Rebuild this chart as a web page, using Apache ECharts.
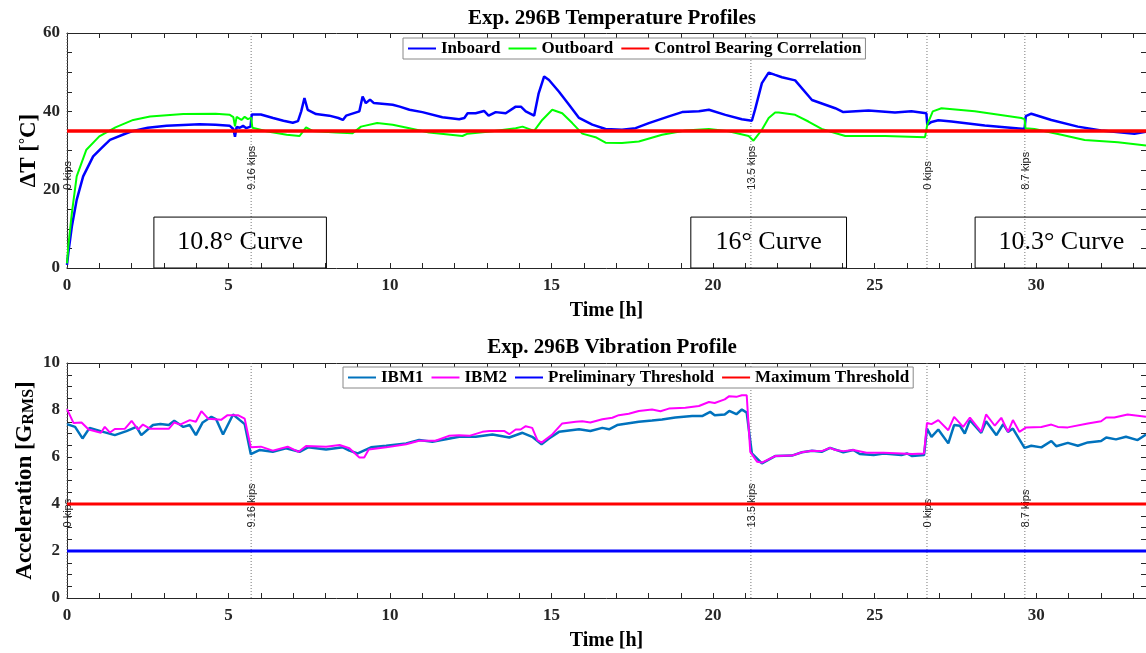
<!DOCTYPE html>
<html>
<head>
<meta charset="utf-8">
<title>Exp. 296B</title>
<script src="https://cdn.jsdelivr.net/npm/echarts@6/dist/echarts.min.js"></script>
<style>
  html, body { margin: 0; padding: 0; background: #fff; }
  #main { width: 1146px; height: 653px; }
</style>
</head>
<body>
<div id="main"></div>
<script>
// 温度曲线 [时间 h, ΔT °C]
var inboard = [[0,0.8],[0.04,3.8],[0.15,10.6],[0.3,17.4],[0.5,23.4],[0.81,28.5],[1.05,30.5],[1.33,32.7],[1.84,34.4],[2.05,35],[2.5,35.8],[3.08,36.3],[3.6,36.5],[4.1,36.7],[4.6,36.6],[5.04,36.3],[5.15,35.5],[5.2,33.5],[5.25,36],[5.35,35.8],[5.45,36.3],[5.55,35.7],[5.68,36.1],[5.72,39.2],[5.76,39.5],[6.0,39.2],[6.38,38.3],[6.7,37.6],[6.99,37.1],[7.15,37.5],[7.25,40],[7.35,43.4],[7.45,40.4],[7.71,39.3],[8.12,38.9],[8.4,38.3],[8.54,37.8],[8.64,38.9],[9.05,40],[9.15,43.8],[9.25,42.1],[9.38,43],[9.5,42.1],[10.08,41.7],[10.3,41.2],[10.6,40.4],[11.0,39.8],[11.62,38.5],[12.14,38.0],[12.3,38.3],[12.4,39.5],[12.65,39.5],[12.91,40.1],[13.05,38.9],[13.27,39.8],[13.58,39.5],[13.89,41.2],[14.05,41.2],[14.2,40],[14.46,38.9],[14.6,44.6],[14.77,48.9],[14.92,48],[15.23,45],[15.54,41.7],[15.85,38.3],[16.26,36.6],[16.67,35.5],[17.18,35.3],[17.6,35.7],[18.01,37],[18.63,38.7],[19.04,39.8],[19.56,40],[19.87,40.4],[20.38,39.1],[20.89,38],[21.2,37.6],[21.3,40.5],[21.51,47.2],[21.72,49.9],[21.92,49.3],[22.13,48.7],[22.54,47.9],[23.06,42.9],[23.78,40.8],[24.03,39.8],[24.81,40.2],[25.63,39.7],[26.14,40],[26.6,39.5],[26.63,36.6],[26.76,37.3],[26.97,37.7],[27.38,37.4],[28.41,36.4],[29.64,35.5],[29.68,38.8],[29.85,39.4],[30.47,37.8],[31.29,36.1],[32.01,35.1],[33.04,34.3],[33.4,34.8]];
var outboard = [[0,1.2],[0.04,5.5],[0.15,14],[0.3,23.4],[0.6,30.2],[1.0,33.6],[1.5,35.9],[2.05,37.8],[2.57,38.7],[3.6,39.3],[4.6,39.4],[5.04,39.1],[5.15,38.5],[5.2,36.2],[5.25,38.6],[5.4,37.8],[5.5,38.6],[5.6,38],[5.7,38.4],[5.74,35.8],[5.9,35.5],[6.17,34.9],[6.8,34],[7.2,33.7],[7.4,35.9],[7.6,35],[8.33,34.6],[8.84,34.4],[9.1,36.1],[9.6,37],[10.08,36.6],[10.6,35.7],[11.21,34.6],[12.24,33.7],[12.4,34.3],[13.17,34.9],[13.89,35.7],[14.1,36.1],[14.46,35],[14.71,37.8],[15.02,40.4],[15.33,39.5],[15.64,37],[15.95,34.3],[16.36,33.4],[16.67,32],[17.18,31.9],[17.7,32.3],[18.42,34],[19.14,35.1],[19.87,35.5],[20.48,34.9],[21.1,33.7],[21.25,32.5],[21.51,35.3],[21.72,38.3],[21.92,39.7],[22.03,39.7],[22.54,39.1],[22.95,37.4],[23.36,35.5],[24.09,33.7],[25.33,33.7],[26.56,33.4],[26.63,36.6],[26.8,40],[27.07,40.8],[28.1,40],[29.54,38.3],[29.64,38],[29.67,35.7],[29.95,35.5],[30.78,34],[31.5,32.7],[32.53,32.1],[33.4,31.3]];
var controlLevel = 35;

// 振动曲线 [时间 h, G_RMS]
var ibm1 = [[0,7.4],[0.25,7.28],[0.48,6.79],[0.7,7.24],[1.12,7.07],[1.48,6.93],[1.84,7.1],[2.15,7.28],[2.3,6.93],[2.66,7.36],[2.89,7.4],[3.15,7.36],[3.32,7.54],[3.6,7.28],[3.8,7.36],[3.99,6.93],[4.2,7.47],[4.47,7.71],[4.62,7.6],[4.83,6.96],[5.14,7.81],[5.35,7.57],[5.5,7.4],[5.69,6.12],[5.97,6.3],[6.37,6.22],[6.78,6.37],[7.2,6.22],[7.46,6.41],[8.02,6.32],[8.54,6.41],[8.74,6.27],[9.0,6.15],[9.41,6.41],[9.88,6.48],[10.5,6.58],[10.9,6.72],[11.31,6.65],[12.14,6.86],[12.65,6.86],[13.17,6.96],[13.69,6.83],[14.1,7.03],[14.4,6.86],[14.69,6.54],[14.92,6.79],[15.23,7.07],[15.85,7.18],[16.2,7.11],[16.57,7.24],[16.78,7.18],[17.03,7.36],[17.7,7.5],[18.11,7.55],[18.42,7.6],[18.83,7.68],[19.35,7.74],[19.66,7.74],[19.91,7.92],[20.05,7.78],[20.36,7.81],[20.5,7.96],[20.72,7.82],[20.89,8.02],[21.04,7.89],[21.2,6.15],[21.51,5.73],[21.92,6.04],[22.44,6.06],[22.75,6.2],[23.06,6.27],[23.36,6.22],[23.62,6.39],[24.03,6.2],[24.34,6.3],[24.54,6.13],[24.97,6.08],[25.28,6.15],[25.83,6.08],[26.0,6.15],[26.16,6.04],[26.53,6.08],[26.62,7.21],[26.76,6.86],[26.97,7.17],[27.28,6.58],[27.46,7.36],[27.64,7.33],[27.79,7.0],[27.95,7.57],[28.3,7.03],[28.45,7.52],[28.77,6.93],[28.98,7.4],[29.13,7.07],[29.28,7.21],[29.64,6.39],[29.85,6.48],[30.16,6.41],[30.47,6.68],[30.62,6.46],[30.98,6.6],[31.29,6.48],[31.6,6.62],[32.01,6.68],[32.17,6.83],[32.47,6.75],[32.78,6.86],[33.14,6.72],[33.4,6.96]];
var ibm2 = [[0,8.04],[0.2,7.45],[0.45,7.47],[0.67,7.17],[1.05,7.03],[1.17,7.28],[1.33,7.04],[1.48,7.19],[1.79,7.2],[2.0,7.54],[2.2,7.17],[2.35,7.38],[2.58,7.2],[3.15,7.2],[3.32,7.47],[3.5,7.38],[3.8,7.57],[3.99,7.5],[4.16,7.95],[4.37,7.63],[4.77,7.58],[4.97,7.78],[5.29,7.78],[5.5,7.63],[5.69,6.41],[6.0,6.44],[6.37,6.27],[6.83,6.44],[7.17,6.22],[7.4,6.47],[8.02,6.44],[8.44,6.51],[8.74,6.37],[9.05,5.98],[9.2,5.98],[9.34,6.32],[9.88,6.41],[10.5,6.54],[10.9,6.69],[11.41,6.69],[11.82,6.9],[12.14,6.93],[12.45,6.9],[12.86,7.07],[13.07,7.11],[13.53,7.11],[13.69,6.97],[13.89,7.17],[14.04,7.17],[14.2,7.31],[14.4,7.24],[14.56,6.72],[14.69,6.61],[15.02,6.96],[15.33,7.43],[15.75,7.5],[15.95,7.52],[16.2,7.47],[16.57,7.61],[16.88,7.67],[17.08,7.78],[17.39,7.84],[17.7,7.96],[18.11,8.02],[18.37,7.95],[18.63,8.06],[19.14,8.1],[19.56,8.17],[19.87,8.34],[20.05,8.3],[20.36,8.45],[20.5,8.59],[20.72,8.56],[20.89,8.63],[21.04,8.63],[21.15,6.22],[21.36,5.8],[21.51,5.76],[21.92,6.04],[22.44,6.06],[22.75,6.2],[23.06,6.27],[23.36,6.25],[23.62,6.39],[23.78,6.3],[24.03,6.25],[24.34,6.3],[24.75,6.18],[25.28,6.18],[25.83,6.15],[26.16,6.13],[26.53,6.15],[26.62,7.45],[26.76,7.4],[26.97,7.57],[27.28,7.14],[27.46,7.71],[27.74,7.28],[27.95,7.68],[28.3,7.07],[28.45,7.81],[28.72,7.33],[28.92,7.67],[29.13,7.07],[29.28,7.57],[29.48,7.07],[29.69,7.26],[30.16,7.28],[30.47,7.38],[30.67,7.28],[30.98,7.26],[31.6,7.43],[32.01,7.52],[32.17,7.68],[32.42,7.68],[32.83,7.81],[33.4,7.71]];
var preliminaryLevel = 2;
var maximumLevel = 4;

// 载荷变化标记
var kipsTimes = [0, 5.7, 21.17, 26.62, 29.65];
var kipsLabels = ['0 kips', '9.16 kips', '13.5 kips', '0 kips', '8.7 kips'];

// 弯道区段
var curveStarts = [2.69, 19.31, 28.11];
var curveEnds = [8.03, 24.13, 33.45];
var curveLabels = ['10.8° Curve', '16° Curve', '10.3° Curve'];
var curveBoxTop = 13;

var xMax = 33.4;
var serif = 'Liberation Serif';
var axisColor = '#262626';

var chart = echarts.init(document.getElementById('main'));

function levelLine(v) {
    return [[0, v], [xMax, v]];
}

// 只在主刻度处显示标签
function everyN(step) {
    return function (v) {
        var r = v / step;
        return Math.abs(r - Math.round(r)) < 1e-6 ? String(Math.round(v * 100) / 100) : '';
    };
}

function xAxisOpt(grid, top) {
    return {
        gridIndex: grid,
        type: 'value',
        position: top ? 'top' : 'bottom',
        min: 0,
        max: xMax,
        interval: 1,
        name: top ? '' : 'Time [h]',
        nameLocation: 'middle',
        nameGap: 33,
        nameMoveOverlap: false,
        nameTextStyle: { fontFamily: serif, fontWeight: 'bold', fontSize: 20, color: '#000' },
        axisLine: { show: true, onZero: false, lineStyle: { color: axisColor, width: 1 } },
        axisTick: { show: true, inside: true, length: 5, lineStyle: { color: axisColor } },
        axisLabel: {
            show: !top, margin: 9, showMaxLabel: false, hideOverlap: false,
            formatter: everyN(5),
            fontFamily: serif, fontWeight: 'bold', fontSize: 17, color: '#262626'
        },
        splitLine: { show: false }
    };
}

function yAxisOpt(grid, right, max, tickStep, labelStep, name, rich, gap) {
    return {
        gridIndex: grid,
        type: 'value',
        position: right ? 'right' : 'left',
        min: 0,
        max: max,
        interval: tickStep,
        name: right ? '' : name,
        nameLocation: 'middle',
        nameGap: gap,
        nameMoveOverlap: false,
        nameTextStyle: { fontFamily: serif, fontWeight: 'bold', fontSize: 23, color: '#000', rich: rich },
        axisLine: { show: true, onZero: false, lineStyle: { color: axisColor, width: 1 } },
        axisTick: { show: true, inside: true, length: 5, lineStyle: { color: axisColor } },
        axisLabel: {
            show: !right, margin: 7, hideOverlap: false,
            formatter: everyN(labelStep),
            fontFamily: serif, fontWeight: 'bold', fontSize: 17, color: '#262626'
        },
        splitLine: { show: false }
    };
}

// 竖直虚线 + 旋转文字
function kipsRender(yMax, yText) {
    return function (params, api) {
        var t = api.value(0);
        var p0 = api.coord([t, 0]);
        var p1 = api.coord([t, yMax]);
        var pt = api.coord([t, yText]);
        return {
            type: 'group',
            children: [{
                type: 'line',
                shape: { x1: p0[0], y1: p0[1], x2: p1[0], y2: p1[1] },
                style: { stroke: '#777', lineWidth: 1, lineDash: [1, 2] }
            }, {
                type: 'text',
                x: pt[0] + 1,
                y: pt[1],
                rotation: Math.PI / 2,
                style: {
                    text: kipsLabels[params.dataIndex],
                    fontFamily: 'Liberation Sans', fontSize: 11, fill: '#222',
                    align: 'left', verticalAlign: 'middle'
                }
            }]
        };
    };
}

function curveRender(params, api) {
    var a = api.coord([api.value(0), curveBoxTop]);
    var b = api.coord([api.value(1), 0]);
    return {
        type: 'group',
        children: [{
            type: 'rect',
            shape: { x: a[0], y: a[1], width: b[0] - a[0], height: b[1] - a[1] },
            style: { fill: 'rgba(255,255,255,0)', stroke: '#000', lineWidth: 1 }
        }, {
            type: 'text',
            x: (a[0] + b[0]) / 2,
            y: (a[1] + b[1]) / 2,
            style: {
                text: curveLabels[params.dataIndex],
                fontFamily: serif, fontSize: 26, fill: '#000',
                align: 'center', verticalAlign: 'middle'
            }
        }]
    };
}

var legendText = { fontFamily: serif, fontWeight: 'bold', fontSize: 17, color: '#000' };

var option = {
    animation: false,
    backgroundColor: '#fff',
    title: [{
        text: 'Exp. 296B Temperature Profiles',
        left: 607, top: 3, textAlign: 'center',
        textStyle: { fontFamily: serif, fontWeight: 'bold', fontSize: 21, color: '#000' }
    }, {
        text: 'Exp. 296B Vibration Profile',
        left: 607, top: 332, textAlign: 'center',
        textStyle: { fontFamily: serif, fontWeight: 'bold', fontSize: 21, color: '#000' }
    }],
    legend: [{
        data: ['Inboard', 'Outboard', 'Control Bearing Correlation'],
        left: 403, top: 38,
        itemWidth: 28, itemHeight: 12, itemGap: 7,
        itemStyle: { opacity: 0 },
        padding: [2, 4],
        borderColor: '#888', borderWidth: 1, backgroundColor: '#fff',
        textStyle: legendText,
        selectedMode: false
    }, {
        data: ['IBM1', 'IBM2', 'Preliminary Threshold', 'Maximum Threshold'],
        left: 343, top: 367,
        itemWidth: 28, itemHeight: 12, itemGap: 7,
        itemStyle: { opacity: 0 },
        padding: [2, 4],
        borderColor: '#888', borderWidth: 1, backgroundColor: '#fff',
        textStyle: legendText,
        selectedMode: false
    }],
    grid: [
        { left: 67, right: -2, top: 33, height: 235 },
        { left: 67, right: -2, top: 363, height: 235 }
    ],
    xAxis: [xAxisOpt(0, false), xAxisOpt(0, true), xAxisOpt(1, false), xAxisOpt(1, true)],
    yAxis: [
        yAxisOpt(0, false, 60, 5, 20, 'ΔT [{sup|°}C]', { sup: { fontFamily: serif, fontWeight: 'bold', fontSize: 15, verticalAlign: 'top' } }, 26),
        yAxisOpt(0, true, 60, 5, 20),
        yAxisOpt(1, false, 10, 0.5, 2, 'Acceleration [G{sub|RMS}]', { sub: { fontFamily: serif, fontWeight: 'bold', fontSize: 16, verticalAlign: 'bottom' } }, 30),
        yAxisOpt(1, true, 10, 0.5, 2)
    ],
    series: [{
        name: 'Inboard', type: 'line', xAxisIndex: 0, yAxisIndex: 0,
        data: inboard, symbol: 'none', color: '#0000ff',
        lineStyle: { width: 2.5, color: '#0000ff' }
    }, {
        name: 'Outboard', type: 'line', xAxisIndex: 0, yAxisIndex: 0,
        data: outboard, symbol: 'none', color: '#00ff00',
        lineStyle: { width: 2, color: '#00ff00' }
    }, {
        name: 'Control Bearing Correlation', type: 'line', xAxisIndex: 0, yAxisIndex: 0,
        data: levelLine(controlLevel), symbol: 'none', color: '#ff0000',
        lineStyle: { width: 3.5, color: '#ff0000' }
    }, {
        name: 'IBM1', type: 'line', xAxisIndex: 2, yAxisIndex: 2,
        data: ibm1, symbol: 'none', color: '#0072bd',
        lineStyle: { width: 2.5, color: '#0072bd' }
    }, {
        name: 'IBM2', type: 'line', xAxisIndex: 2, yAxisIndex: 2,
        data: ibm2, symbol: 'none', color: '#ff00ff',
        lineStyle: { width: 2, color: '#ff00ff' }
    }, {
        name: 'Preliminary Threshold', type: 'line', xAxisIndex: 2, yAxisIndex: 2,
        data: levelLine(preliminaryLevel), symbol: 'none', color: '#0000ff',
        lineStyle: { width: 3, color: '#0000ff' }
    }, {
        name: 'Maximum Threshold', type: 'line', xAxisIndex: 2, yAxisIndex: 2,
        data: levelLine(maximumLevel), symbol: 'none', color: '#ff0000',
        lineStyle: { width: 3, color: '#ff0000' }
    }, {
        type: 'custom', xAxisIndex: 0, yAxisIndex: 0, z: 1,
        data: kipsTimes.map(function (t) { return [t, 0]; }),
        renderItem: kipsRender(60, 20), silent: true
    }, {
        type: 'custom', xAxisIndex: 2, yAxisIndex: 2, z: 1,
        data: kipsTimes.map(function (t) { return [t, 0]; }),
        renderItem: kipsRender(10, 3), silent: true
    }, {
        type: 'custom', xAxisIndex: 0, yAxisIndex: 0, clip: true,
        data: curveStarts.map(function (s, i) { return [s, curveEnds[i]]; }),
        renderItem: curveRender, silent: true
    }]
};

chart.setOption(option);
</script>
</body>
</html>
